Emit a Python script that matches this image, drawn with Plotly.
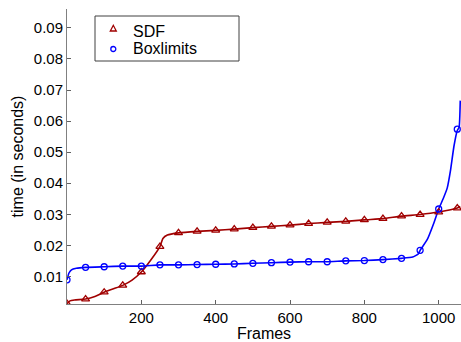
import plotly.graph_objects as go

# Marker samples (every 50 frames)
marker_frames = [0, 50, 100, 150, 200, 250, 300, 350, 400, 450, 500, 550, 600, 650,
                 700, 750, 800, 850, 900, 950, 1000, 1050]
sdf_marks = [0.0012, 0.0027, 0.0049, 0.0071, 0.0114, 0.0196, 0.0240, 0.0245, 0.0248,
             0.0252, 0.0257, 0.0261, 0.0265, 0.0270, 0.0274, 0.0277, 0.0282, 0.0286,
             0.0294, 0.0299, 0.0307, 0.0320]
box_marks = [0.0089, 0.0129, 0.0131, 0.0133, 0.0133, 0.0137, 0.0137, 0.0138, 0.0139,
             0.0140, 0.0142, 0.0144, 0.0146, 0.0147, 0.0147, 0.0150, 0.0151, 0.0154,
             0.0158, 0.0184, 0.0317, 0.0574]

# Line knots
sdf_line_frames = [0, 8, 20, 50, 75, 100, 125, 150, 175, 200, 225, 250, 258, 270, 300,
                   350, 400, 450, 500, 550, 600, 650, 700, 750, 800, 850, 900, 950,
                   1000, 1050, 1058]
sdf_line_vals = [0.0012, 0.0021, 0.0024, 0.0027, 0.0035, 0.0049, 0.0060, 0.0071, 0.0088,
                 0.0114, 0.0152, 0.0196, 0.0222, 0.0233, 0.0240, 0.0245, 0.0248, 0.0252,
                 0.0257, 0.0261, 0.0265, 0.0270, 0.0274, 0.0277, 0.0282, 0.0286, 0.0294,
                 0.0299, 0.0307, 0.0320, 0.0325]
box_line_frames = [0, 5, 12, 25, 50, 100, 150, 200, 250, 300, 350, 400, 450, 500, 550,
                   600, 650, 700, 750, 800, 850, 900, 930, 945, 950, 969, 987, 1000,
                   1012, 1023, 1032, 1041, 1050, 1055, 1058]
box_line_vals = [0.0089, 0.0110, 0.0121, 0.0126, 0.0129, 0.0131, 0.0133, 0.0133, 0.0137,
                 0.0137, 0.0138, 0.0139, 0.0140, 0.0142, 0.0144, 0.0146, 0.0147, 0.0147,
                 0.0150, 0.0151, 0.0154, 0.0158, 0.0162, 0.0172, 0.0184, 0.0218, 0.0272,
                 0.0317, 0.0350, 0.0385, 0.0443, 0.0519, 0.0570, 0.0580, 0.0666]

x_ticks = [200, 400, 600, 800, 1000]
y_ticks = [0.01, 0.02, 0.03, 0.04, 0.05, 0.06, 0.07, 0.08, 0.09]
series_names = ["SDF", "Boxlimits"]

RED = "#a00000"
BLUE = "#0000ff"

W, H = 461, 342
ML, MR, MT, MB = 67, 0, 9, 38
PW, PH = W - ML - MR, H - MT - MB


def px(xp):
    return (xp - ML) / PW


def py(yp):
    return (H - MB - yp) / PH


fig = go.Figure()
fig.add_trace(go.Scatter(x=sdf_line_frames, y=sdf_line_vals, mode="lines",
                         line=dict(color=RED, width=1.6, shape="spline", smoothing=0.4),
                         showlegend=False, hoverinfo="skip"))
fig.add_trace(go.Scatter(x=box_line_frames, y=box_line_vals, mode="lines",
                         line=dict(color=BLUE, width=1.6, shape="spline", smoothing=0.4),
                         showlegend=False, hoverinfo="skip"))
fig.add_trace(go.Scatter(x=marker_frames, y=sdf_marks, mode="markers", name=series_names[0],
                         showlegend=False,
                         marker=dict(symbol="triangle-up-open", size=7, color=RED,
                                     line=dict(width=1.3, color=RED))))
fig.add_trace(go.Scatter(x=marker_frames, y=box_marks, mode="markers", name=series_names[1],
                         showlegend=False,
                         marker=dict(symbol="circle-open", size=6, color=BLUE,
                                     line=dict(width=1.3, color=BLUE))))

# Legend drawn as a box with glyphs and labels (MATLAB-style compact legend)
shapes = [
    dict(type="rect", xref="paper", yref="paper", x0=px(95), x1=px(239), y0=py(61), y1=py(16),
         line=dict(color="#404040", width=1), fillcolor="white", layer="below"),
    dict(type="path", xref="paper", yref="paper",
         path=f"M {px(110.3)},{py(31)} L {px(116.3)},{py(31)} L {px(113.3)},{py(25.3)} Z",
         line=dict(color=RED, width=1.3)),
    dict(type="circle", xref="paper", yref="paper", x0=px(110.8), x1=px(115.8),
         y0=py(51.5), y1=py(46.5), line=dict(color=BLUE, width=1.3)),
]
annotations = [
    dict(xref="paper", yref="paper", x=px(131), y=py(31), xanchor="left", yanchor="middle",
         text=series_names[0], showarrow=False, font=dict(size=16, color="black")),
    dict(xref="paper", yref="paper", x=px(131), y=py(49), xanchor="left", yanchor="middle",
         text=series_names[1], showarrow=False, font=dict(size=16, color="black")),
]

fig.update_layout(
    width=W, height=H,
    margin=dict(l=ML, r=MR, t=MT, b=MB),
    paper_bgcolor="white", plot_bgcolor="white",
    font=dict(family="Liberation Sans, Arial, sans-serif", size=15, color="black"),
    showlegend=False, shapes=shapes, annotations=annotations,
)
fig.update_xaxes(range=[0, 1060], tickvals=x_ticks, ticks="inside", ticklen=4,
                 tickcolor="#606060", showline=True, linecolor="#808080", linewidth=1,
                 showgrid=False, zeroline=False, mirror=False,
                 title=dict(text="Frames", font=dict(size=16), standoff=2))
fig.update_yaxes(range=[0.0011, 0.0961], tickvals=y_ticks, tickformat=".2f",
                 ticks="inside", ticklen=4, tickcolor="#606060", showline=True,
                 linecolor="#808080", linewidth=1, showgrid=False, zeroline=False,
                 title=dict(text="time (in seconds)", font=dict(size=16), standoff=6))

fig.write_html("out.html", config={"displayModeBar": False},
               post_script="document.body.style.margin='0';document.body.style.overflow='hidden';")
